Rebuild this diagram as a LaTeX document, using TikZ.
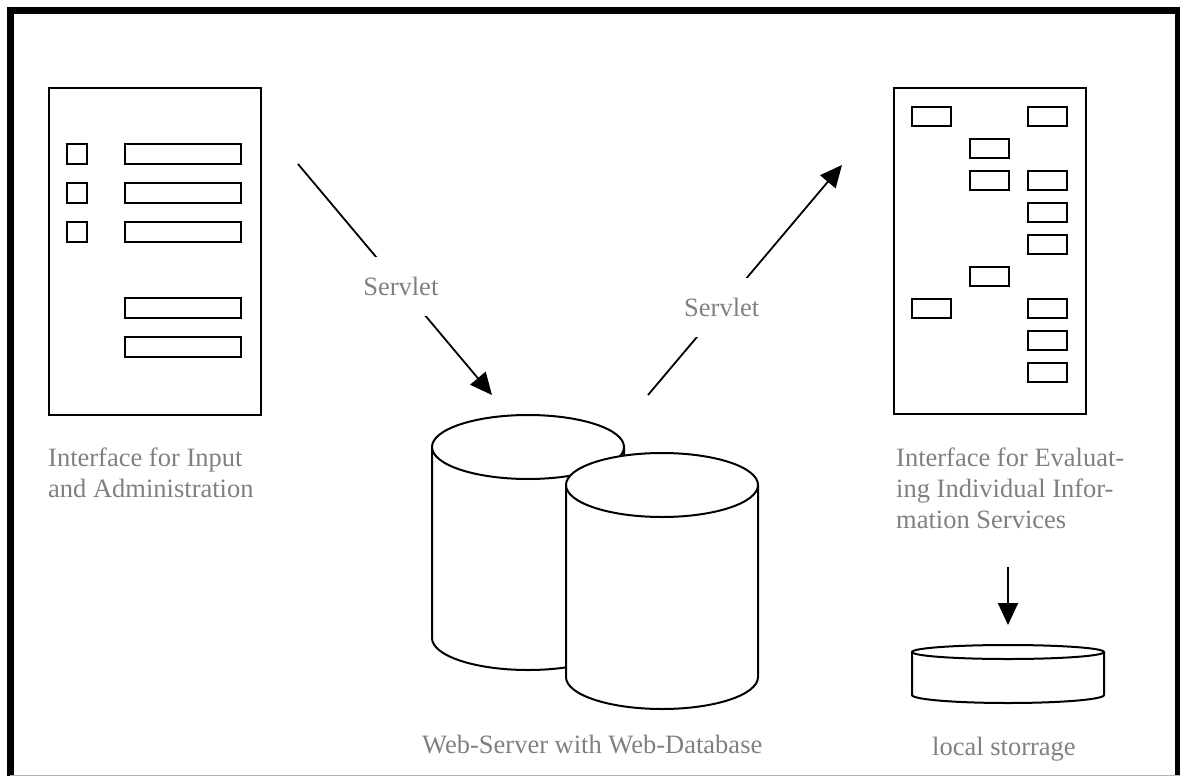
\documentclass[tikz,border=0pt]{standalone}
\usepackage{fontspec}
\setmainfont{Liberation Serif}
\usetikzlibrary{arrows.meta,positioning}

\definecolor{captiongray}{gray}{0.5}

\begin{document}
\begin{tikzpicture}[
      x=1pt, y=-1pt,
      frame/.style={line width=7pt, line join=miter},
      page/.style={draw, line width=1.6pt, inner sep=0pt, anchor=north west},
      widget/.style={draw, line width=2.2pt},
      caption/.style={text=captiongray, font=\fontsize{26.5}{31}\selectfont, align=left, inner sep=0pt},
      servlet/.style={caption, fill=white, inner xsep=2pt, inner ysep=20pt},
      drum/.style={fill=white, line width=2pt},
      flow/.style={->, line width=1.8pt},
      >={Triangle[length=22pt,width=20pt]}
    ]
    \useasboundingbox (0,0) rectangle (1180,776);

    % the outer frame
    \draw[frame] (10,776) -- (10,11) -- (1178.5,11) -- (1178.5,776);
    \draw[black!30, line width=1pt] (10,775.5) -- (1180,775.5);

    % input / administration page
    \node[page, minimum width=212pt, minimum height=327pt] (inputui) at (48,87) {};
    \foreach \y in {144,183,222}
      \draw[widget] (67,\y) rectangle ++(20,20);
    \foreach \y in {144,183,222,298,337}
      \draw[widget] (125,\y) rectangle ++(116,20);
    % base of a multi-line caption sits on its last line
    \node[caption, anchor=base west] (inputcap) at (48,497) {Interface for Input\\and Administration};

    % evaluation page
    \node[page, minimum width=192pt, minimum height=326pt] (evalui) at (893,87) {};
    \foreach \x/\r in {912/0,1028/0,970/1,970/2,1028/2,1028/3,1028/4,970/5,912/6,1028/6,1028/7,1028/8}
      \draw[widget] (\x,{107+32*\r}) rectangle ++(39,19);
    \node[caption, anchor=base west] (evalcap) at (896,528) {Interface for Evaluat-\\ing Individual Infor-\\mation Services};

    % web database, two drums
    \draw[drum] (432,447) -- (432,638) arc[start angle=180, end angle=360, x radius=96pt, y radius=32pt] -- (624,447);
    \draw[drum] (528,447) ellipse[x radius=96pt, y radius=32pt];
    \draw[drum] (566,485) -- (566,677) arc[start angle=180, end angle=360, x radius=96pt, y radius=32pt] -- (758,485);
    \draw[drum] (662,485) ellipse[x radius=96pt, y radius=32pt];
    \node[caption, anchor=base west] (dbcap) at (422,753) {Web-Server with Web-Database};

    % local storage disk
    \draw[drum] (912,652) -- (912,695) arc[start angle=180, end angle=360, x radius=96pt, y radius=8pt] -- (1104,652);
    \draw[drum] (1008,652) ellipse[x radius=96pt, y radius=7pt];
    \node[caption, anchor=base west] (diskcap) at (932,755) {local storrage};

    % arrow ends
    \coordinate (submit) at (298,164);
    \coordinate (dbin) at (492,395);
    \coordinate (dbout) at (648,395);
    \coordinate (report) at (842,165);
    \coordinate (save) at (1008,567);
    \coordinate (disk) at (1008,625);

    % the arrows
    \draw[flow] (submit) -- node[servlet, pos=0.53] (servin) {Servlet} (dbin);
    \draw[flow] (dbout) -- node[servlet, pos=0.38] (servout) {Servlet} (report);
    \draw[flow] (save) -- (disk);
\end{tikzpicture}
\end{document}
